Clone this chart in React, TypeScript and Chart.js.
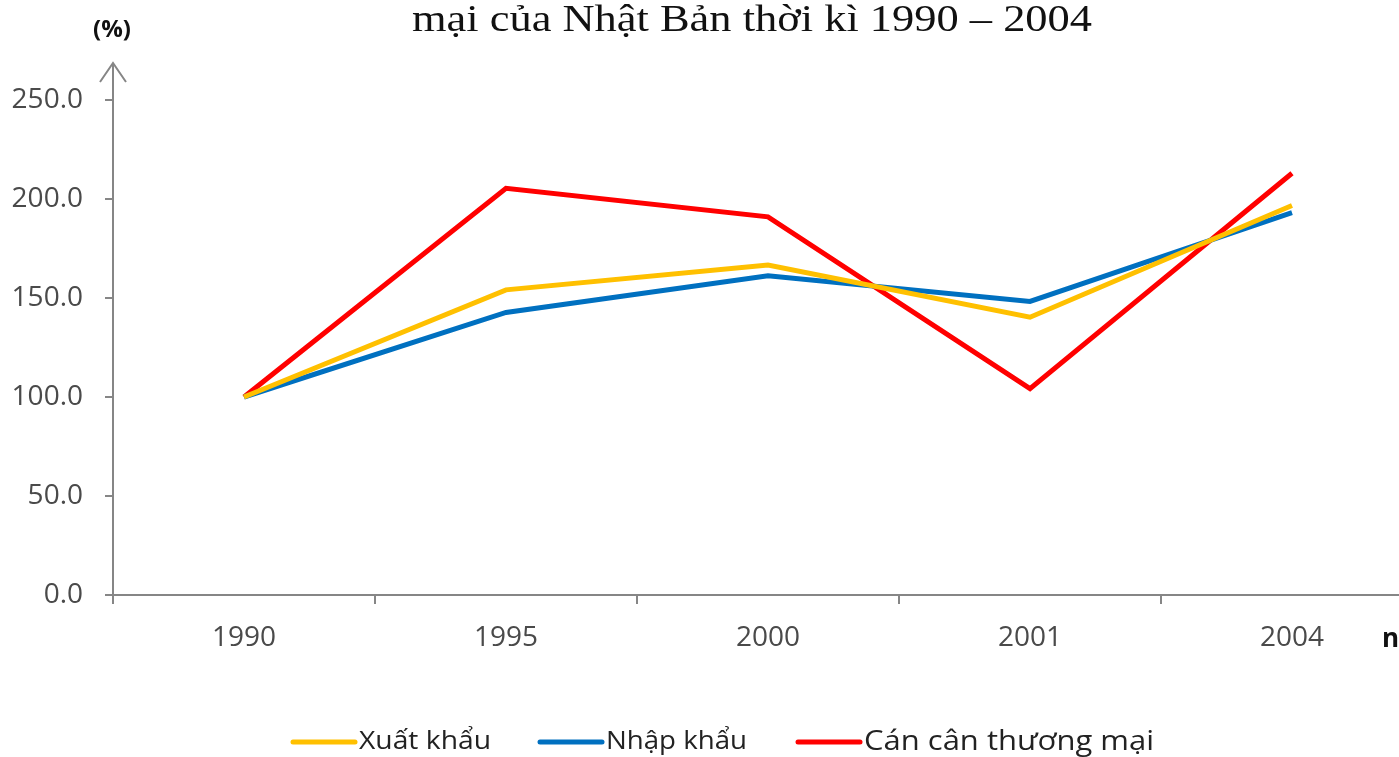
import React, { useEffect, useRef } from "react";
import { Chart, registerables } from "chart.js";

Chart.register(...registerables);

const categories = ["1990", "1995", "2000", "2001", "2004"];
const xuatKhau = [100, 154.1, 166.6, 140.3, 196.7];
const nhapKhau = [100, 142.7, 161.2, 148.3, 193.1];
const canCan = [100, 205.4, 191.0, 104.2, 213.0];
const seriesNames = ["Xuất khẩu", "Nhập khẩu", "Cán cân thương mại"];
const seriesColors = ["#FFC000", "#0070C0", "#FF0000"];
const yTicks = [0, 50, 100, 150, 200, 250];
const titleText = "mại của Nhật Bản thời kì 1990 – 2004";
const yUnit = "(%)";
const xUnit = "năm";

const AXIS = "#868686";
const TXT = "#4a4a4a";
const FONT = "'Open Sans', 'DejaVu Sans', sans-serif";

function stretchText(ctx: any, text: string, x: number, y: number, width: number, align: string) {
  const w = ctx.measureText(text).width;
  const s = width / w;
  ctx.save();
  ctx.textAlign = "left";
  let x0 = x;
  if (align === "center") x0 = x - width / 2;
  ctx.translate(x0, y);
  ctx.scale(s, 1);
  ctx.fillText(text, 0, 0);
  ctx.restore();
}

const decor = {
  id: "decor",
  afterDraw(chart: any) {
    const ctx = chart.ctx;
    const ca = chart.chartArea;
    ctx.save();
    // arrow on y axis
    ctx.strokeStyle = AXIS;
    ctx.lineWidth = 2;
    ctx.beginPath();
    ctx.moveTo(ca.left, ca.top);
    ctx.lineTo(ca.left, ca.top - 37);
    ctx.moveTo(ca.left - 13, ca.top - 18);
    ctx.lineTo(ca.left, ca.top - 37);
    ctx.lineTo(ca.left + 13, ca.top - 18);
    ctx.stroke();

    // title
    ctx.fillStyle = "#111";
    ctx.font = "37px 'Liberation Serif', 'Times New Roman', serif";
    ctx.textBaseline = "alphabetic";
    stretchText(ctx, titleText, 752, 31, 680, "center");

    // (%)
    ctx.font = "bold 24px " + FONT;
    ctx.fillStyle = "#111";
    ctx.textAlign = "center";
    ctx.fillText(yUnit, 112, 37);

    // năm
    ctx.textAlign = "left";
    ctx.font = "bold 26px " + FONT;
    ctx.fillText(xUnit, 1382, 647);

    // legend
    const items = [
      { x: 293, size: 25, w: 132 },
      { x: 540, size: 25, w: 141 },
      { x: 798, size: 28, w: 290 },
    ];
    const ly = 742;
    chart.data.datasets.forEach((ds: any, i: number) => {
      const it = items[i];
      ctx.strokeStyle = ds.borderColor;
      ctx.lineWidth = 5;
      ctx.lineCap = "round";
      ctx.beginPath();
      ctx.moveTo(it.x, ly);
      ctx.lineTo(it.x + 62, ly);
      ctx.stroke();
      ctx.fillStyle = "#222";
      ctx.font = it.size + "px " + FONT;
      ctx.textBaseline = "middle";
      stretchText(ctx, ds.label, it.x + 66, ly, it.w, "left");
    });
    ctx.restore();
  },
};

export default function App() {
  const ref = useRef<HTMLCanvasElement | null>(null);
  useEffect(() => {
    if (!ref.current) return;
    const chart = new Chart(ref.current, {
      type: "line",
      data: {
        labels: categories,
        datasets: [xuatKhau, nhapKhau, canCan].map((d, i) => ({
          label: seriesNames[i],
          data: d,
          borderColor: seriesColors[i],
          backgroundColor: seriesColors[i],
          borderWidth: 5,
          pointRadius: 0,
          tension: 0,
          fill: false,
        })),
      },
      options: {
        animation: false,
        responsive: true,
        maintainAspectRatio: false,
        layout: { padding: { top: 100, right: 17, bottom: 0, left: 0 } },
        plugins: { legend: { display: false }, tooltip: { enabled: false }, title: { display: false } },
        scales: {
          x: {
            type: "category",
            offset: true,
            grid: {
              display: true,
              offset: true,
              drawOnChartArea: false,
              drawTicks: true,
              tickLength: 9,
              color: AXIS,
              lineWidth: 2,
            },
            border: { display: true, color: AXIS, width: 2 },
            ticks: { color: TXT, font: { family: FONT, size: 28 }, padding: 17 },
            afterFit: (s: any) => {
              s.height = 162;
            },
          },
          y: {
            min: 0,
            max: 250,
            afterBuildTicks: (s: any) => {
              s.ticks = yTicks.map((v) => ({ value: v }));
            },
            grid: {
              display: true,
              drawOnChartArea: false,
              drawTicks: true,
              tickLength: 8,
              color: AXIS,
              lineWidth: 2,
            },
            border: { display: true, color: AXIS, width: 2 },
            ticks: {
              color: TXT,
              font: { family: FONT, size: 28 },
              padding: 22,
              callback: (v: any) => Number(v).toFixed(1),
            },
            afterFit: (s: any) => {
              s.width = 113;
            },
          },
        },
      },
      plugins: [decor],
    });
    return () => chart.destroy();
  }, []);
  return (
    <div
      style={{
        position: "fixed",
        left: 0,
        top: 0,
        width: 1399,
        height: 757,
        overflow: "hidden",
        background: "#fff",
      }}
    >
      <div style={{ position: "relative", width: 1440, height: 757 }}>
        <canvas ref={ref} />
      </div>
    </div>
  );
}
